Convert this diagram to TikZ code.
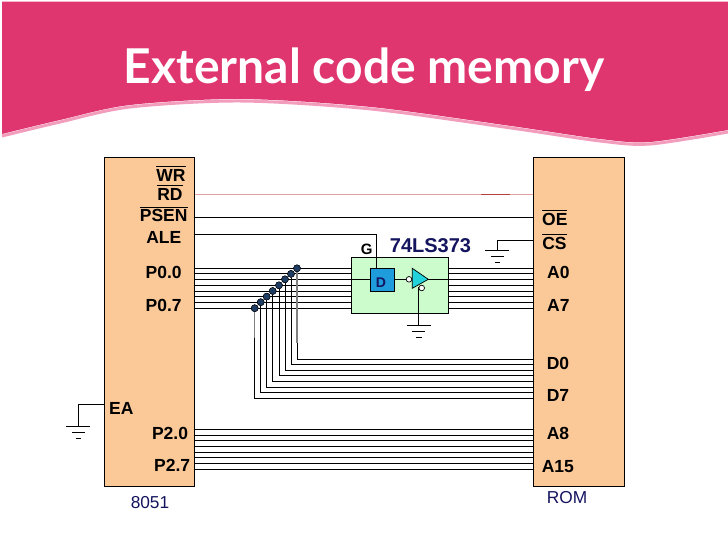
\documentclass[tikz,border=0pt]{standalone}
\usepackage{amsmath}
\usepackage{fontspec}
\setmainfont{Liberation Sans}
\newfontfamily\titlefont{Lato}
\definecolor{bannerpink}{HTML}{E0366F}
\definecolor{bannerrim}{HTML}{F29DBB}
\definecolor{chipfill}{HTML}{FBC898}
\definecolor{latchgreen}{HTML}{CCFBCC}
\definecolor{dbox}{HTML}{1E9CDB}
\definecolor{bufcyan}{HTML}{22D3DB}
\definecolor{labelnavy}{HTML}{14145F}
\definecolor{dotblue}{HTML}{1F3C63}
\definecolor{palered}{HTML}{E3A0A0}
\definecolor{darkred}{HTML}{B84040}
\tikzset{chip/.style = {shape=rectangle,draw,fill=chipfill,minimum width=90.5pt,minimum height=329pt,inner sep=0}}
\tikzset{pin/.style = {anchor=base,inner sep=0,font=\fontsize{17.5}{20}\selectfont\bfseries}}
\tikzset{tag/.style = {anchor=base,inner sep=0,text=labelnavy,font=\fontsize{17.3}{20}\selectfont}}
\tikzset{tap/.style = {shape=circle,draw=black,fill=dotblue,minimum size=7pt,inner sep=0,line width=0.4pt}}
\tikzset{bubble/.style = {shape=circle,draw,fill=white,minimum size=5.6pt,inner sep=0,line width=0.7pt}}
\newcommand{\inv}[1]{$\overline{\mbox{#1}}$}

\begin{document}
\begin{tikzpicture}[x=1pt,y=-1pt,line width=1pt]
        \useasboundingbox (0,0) rectangle (728,546);
        % banner
        \draw[bannerrim,line width=3pt] plot[smooth] coordinates {(2,136) (60,122) (130,107) (241,101) (371,109) (511,128) (600,141) (650,144) (728,132)};
        \fill[bannerpink] (2,1.5) -- (728,1.5) -- (728,130) -- plot[smooth] coordinates {(728,130) (650,142) (600,139) (511,126) (371,107) (241,99) (130,105) (60,120) (2,134)} -- cycle;
        \node[anchor=base,inner sep=0,text=white] (title) at (364,83)
            {\titlefont\fontsize{48}{50}\selectfont\bfseries External code memory};

        % the two chips
        \node[chip] (mcu) at (149.3,322.2) {};
        \node[chip] (rom) at (579,322.2) {};

        % latch
        \draw[palered] (mcu.east |- 0,194) -- (rom.west |- 0,194);
        \draw[darkred] (481,194) -- (510,194);
        \draw (mcu.east |- 0,217.3) -- (rom.west |- 0,217.3);

        % address and data bus, with the taps
        \foreach \vx/\vy/\wy [count=\i] in {297/268.3/359, 291/273.9/364.3, 285/279.3/370, 279/285.3/375.3,
                272.7/291/381.3, 266.7/296.6/387, 260.7/302.2/392.7, 254.7/308.2/398.3} {
          \node[tap] (tap\i) at (\vx,\vy) {};
          \draw (mcu.east |- tap\i) -- (rom.west |- tap\i);
          \draw (tap\i) |- (rom.west |- 0,\wy);
        }
        \draw[gray,line width=1.4pt] (tap1) -- (297,343);
        \draw[gray,line width=1.4pt] (tap8) -- (254.7,338);
        \foreach \i in {1,...,8} {
          \node[tap] at (tap\i) {};
        }
        \foreach \wy in {429.3,435.3,440.7,446.3,452.3,457.7,463.3,469} {
          \draw (mcu.east |- 0,\wy) -- (rom.west |- 0,\wy);
        }

        \node[draw,fill=latchgreen,minimum width=97.4pt,minimum height=56pt,inner sep=0] (latch) at (400,285.3) {};
        \node[draw,fill=dbox,minimum width=24.4pt,minimum height=22.6pt,inner sep=0] (dff) at (382.5,280) {};
        \node[anchor=base,inner sep=0,text=labelnavy,font=\fontsize{14}{16}\selectfont\bfseries] (dlabel) at (381,287.3) {D};
        \coordinate (bufin) at (412.3,279.3);
        \coordinate (bufout) at (428.3,279.3);
        \coordinate (oenable) at (418.7,287);
        \draw (latch.west |- bufin) -- (dff.west |- bufin);
        \draw (dff.east |- bufin) -- (bufin);
        \draw (bufout) -- (latch.east |- bufout);
        \draw[fill=bufcyan,line width=0.7pt] (412.3,268.3) -- (bufout) -- (412.3,288.3) -- cycle;
        \node[bubble] (bubin) at (409,279.3) {};
        \node[bubble] (buben) at (421.7,288) {};

        % control wires and grounds
        \coordinate (gndbuf) at (418.7,325.3);
        \coordinate (gndcs) at (497.3,250.3);
        \coordinate (gndea) at (78.3,426.3);
        \draw (mcu.east |- 0,234.3) -| (376,268.7);
        \draw (oenable) -- (gndbuf);
        \draw (rom.west |- 0,240.3) -| (gndcs);
        \draw (mcu.west |- 0,404) -| (gndea);
        \foreach \g in {gndbuf,gndcs,gndea} {
          \draw (\g) +(-12,0) -- +(12,0);
          \draw (\g) +(-6.3,6) -- +(6.3,6);
          \draw (\g) +(-2.8,12) -- +(2.8,12);
        }

        % pin names
        \node[pin] (wr) at (171,181) {\inv{WR}};
        \node[pin] (rd) at (170,200) {\inv{RD}};
        \node[pin] (psen) at (163.7,221.7) {\inv{PSEN}};
        \node[pin] (ale) at (163.8,243.3) {ALE};
        \node[pin] (pzz) at (163.7,278.3) {P0.0};
        \node[pin] (pzs) at (163.7,311) {P0.7};
        \node[pin] (ea) at (121.3,414) {EA};
        \node[pin] (ptz) at (170,439) {P2.0};
        \node[pin] (pts) at (172.2,471.7) {P2.7};
        \node[pin] (oe) at (554.8,225) {\inv{OE}};
        \node[pin] (cs) at (554.5,249.3) {\inv{CS}};
        \node[pin] (azero) at (558.3,278.3) {A0};
        \node[pin] (aseven) at (558.3,311) {A7};
        \node[pin] (dzero) at (558,369.3) {D0};
        \node[pin] (dseven) at (558,401) {D7};
        \node[pin] (aeight) at (558,439) {A8};
        \node[pin] (afifteen) at (557.8,472.3) {A15};

        \node[tag] (mculabel) at (150,508.3) {8051};
        \node[tag] (romlabel) at (567,503.3) {ROM};
        \node[anchor=base,inner sep=0,text=labelnavy,font=\fontsize{20}{22}\selectfont\bfseries] (partno) at (430.5,252) {74LS373};
        \node[anchor=base,inner sep=0,font=\fontsize{15}{17}\selectfont\bfseries] (glabel) at (366.8,254) {G};
      \end{tikzpicture}
\end{document}
